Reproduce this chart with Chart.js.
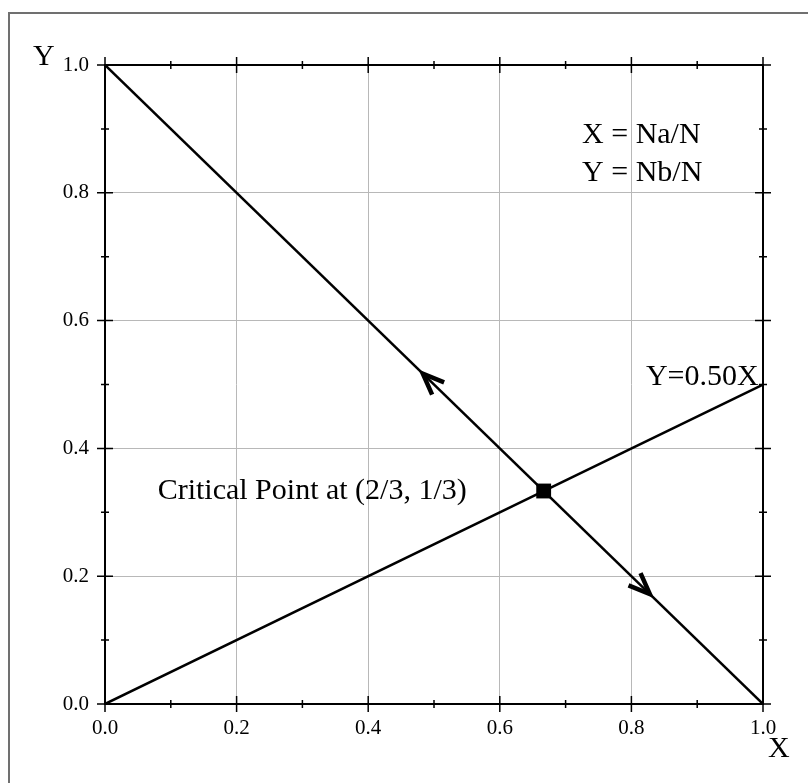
<!DOCTYPE html>
<html>
<head>
<meta charset="utf-8">
<script src="https://cdn.jsdelivr.net/npm/chart.js@4"></script>
<style>
  html, body { margin: 0; padding: 0; background: #fff; }
  canvas { display: block; }
</style>
</head>
<body>
<canvas id="chart" width="808" height="783"></canvas>
<script>
//
// DATA
//

const diagX = [0, 1];
const diagY = [1, 0];
const halfX = [0, 1];
const halfY = [0, 0.5];
const criticalX = [2 / 3];
const criticalY = [1 / 3];
const arrowX = [0.483, 0.828];
const arrowY = [0.517, 0.172];
const arrowDir = [-1, 1];
const tickValues = [0, 0.2, 0.4, 0.6, 0.8, 1.0];
const minorValues = [0.1, 0.3, 0.5, 0.7, 0.9];
const notes = [
  { text: "X = Na/N", x: 0.725, y: 0.878 },
  { text: "Y = Nb/N", x: 0.725, y: 0.818 },
  { text: "Y=0.50X", x: 0.822, y: 0.499 },
  { text: "Critical Point at (2/3, 1/3)", x: 0.08, y: 0.321 },
];

const SERIF = '"Liberation Serif", "Times New Roman", serif';

function toPoints(xs, ys) {
  return xs.map((x, i) => ({ x: x, y: ys[i] }));
}

//
// PLUGIN: frame, crossing ticks, arrows, texts
//

const framePlugin = {
  id: "frame",
  beforeDatasetsDraw(chart) {
    const ctx = chart.ctx;
    const a = chart.chartArea;
    const xs = chart.scales.x;
    const ys = chart.scales.y;
    ctx.save();
    // outer box
    ctx.strokeStyle = "#707070";
    ctx.lineWidth = 2;
    ctx.strokeRect(9, 13, 900, 900);

    ctx.strokeStyle = "#000";
    ctx.lineWidth = 2;
    ctx.strokeRect(a.left, a.top, a.right - a.left, a.bottom - a.top);

    ctx.lineWidth = 1.5;
    ctx.beginPath();
    const mark = (vals, len) => {
      vals.forEach((v) => {
        const px = xs.getPixelForValue(v);
        ctx.moveTo(px, a.bottom - len);
        ctx.lineTo(px, a.bottom + len);
        ctx.moveTo(px, a.top - len);
        ctx.lineTo(px, a.top + len);
        const py = ys.getPixelForValue(v);
        ctx.moveTo(a.left - len, py);
        ctx.lineTo(a.left + len, py);
        ctx.moveTo(a.right - len, py);
        ctx.lineTo(a.right + len, py);
      });
    };
    mark(tickValues, 8);
    mark(minorValues, 4);
    ctx.stroke();
    ctx.restore();
  },
  afterDatasetsDraw(chart) {
    const ctx = chart.ctx;
    const xs = chart.scales.x;
    const ys = chart.scales.y;
    ctx.save();

    // arrows along the diagonal line
    const p0x = xs.getPixelForValue(diagX[0]);
    const p0y = ys.getPixelForValue(diagY[0]);
    const p1x = xs.getPixelForValue(diagX[1]);
    const p1y = ys.getPixelForValue(diagY[1]);
    const len = Math.hypot(p1x - p0x, p1y - p0y);
    const ux = (p1x - p0x) / len;
    const uy = (p1y - p0y) / len;
    ctx.strokeStyle = "#000";
    ctx.lineWidth = 4.5;
    ctx.lineJoin = "miter";
    arrowX.forEach((v, i) => {
      const tx = xs.getPixelForValue(v);
      const ty = ys.getPixelForValue(arrowY[i]);
      // back direction points away from where the arrow heads
      const bx = -arrowDir[i] * ux;
      const by = -arrowDir[i] * uy;
      const ang = (22 * Math.PI) / 180;
      const arm = 23;
      const r = (s) => ({
        x: tx + arm * (bx * Math.cos(s * ang) - by * Math.sin(s * ang)),
        y: ty + arm * (bx * Math.sin(s * ang) + by * Math.cos(s * ang)),
      });
      const e1 = r(1);
      const e2 = r(-1);
      ctx.beginPath();
      ctx.moveTo(e1.x, e1.y);
      ctx.lineTo(tx, ty);
      ctx.lineTo(e2.x, e2.y);
      ctx.stroke();
    });

    // texts
    ctx.fillStyle = "#000";
    ctx.font = "30px " + SERIF;
    ctx.textAlign = "left";
    ctx.textBaseline = "alphabetic";
    notes.forEach((n) => {
      ctx.fillText(n.text, xs.getPixelForValue(n.x), ys.getPixelForValue(n.y));
    });
    ctx.fillText("Y", 33, 65);
    ctx.fillText("X", 768, 757);
    ctx.restore();
  },
};

//
// CHART
//

const ctx = document.getElementById("chart");
new Chart(ctx, {
  type: "scatter",
  data: {
    datasets: [
      {
        data: toPoints(diagX, diagY),
        showLine: true,
        borderColor: "#000",
        borderWidth: 2.5,
        pointRadius: 0,
      },
      {
        data: toPoints(halfX, halfY),
        showLine: true,
        borderColor: "#000",
        borderWidth: 2.5,
        pointRadius: 0,
      },
      {
        data: toPoints(criticalX, criticalY),
        pointStyle: "rect",
        pointRadius: 10.5,
        pointBorderWidth: 0,
        backgroundColor: "#000",
        borderColor: "#000",
      },
    ],
  },
  options: {
    responsive: false,
    animation: false,
    layout: { padding: { top: 65, right: 45, left: 0, bottom: 0 } },
    plugins: {
      legend: { display: false },
      tooltip: { enabled: false },
    },
    scales: {
      x: {
        type: "linear",
        min: 0,
        max: 1,
        afterFit: (s) => { s.height = 79; },
        afterBuildTicks: (s) => { s.ticks = tickValues.map((v) => ({ value: v })); },
        border: { display: false },
        grid: { color: "#b8b8b8", lineWidth: 1, drawTicks: false },
        ticks: {
          padding: 12,
          color: "#000",
          font: { family: SERIF, size: 21 },
          maxRotation: 0,
          callback: (v) => Number(v).toFixed(1),
        },
      },
      y: {
        type: "linear",
        min: 0,
        max: 1,
        afterFit: (s) => { s.width = 105; },
        afterBuildTicks: (s) => { s.ticks = tickValues.map((v) => ({ value: v })); },
        border: { display: false },
        grid: { color: "#b8b8b8", lineWidth: 1, drawTicks: false },
        ticks: {
          padding: 16,
          color: "#000",
          font: { family: SERIF, size: 21 },
          callback: (v) => Number(v).toFixed(1),
        },
      },
    },
  },
  plugins: [framePlugin],
});
</script>
</body>
</html>
